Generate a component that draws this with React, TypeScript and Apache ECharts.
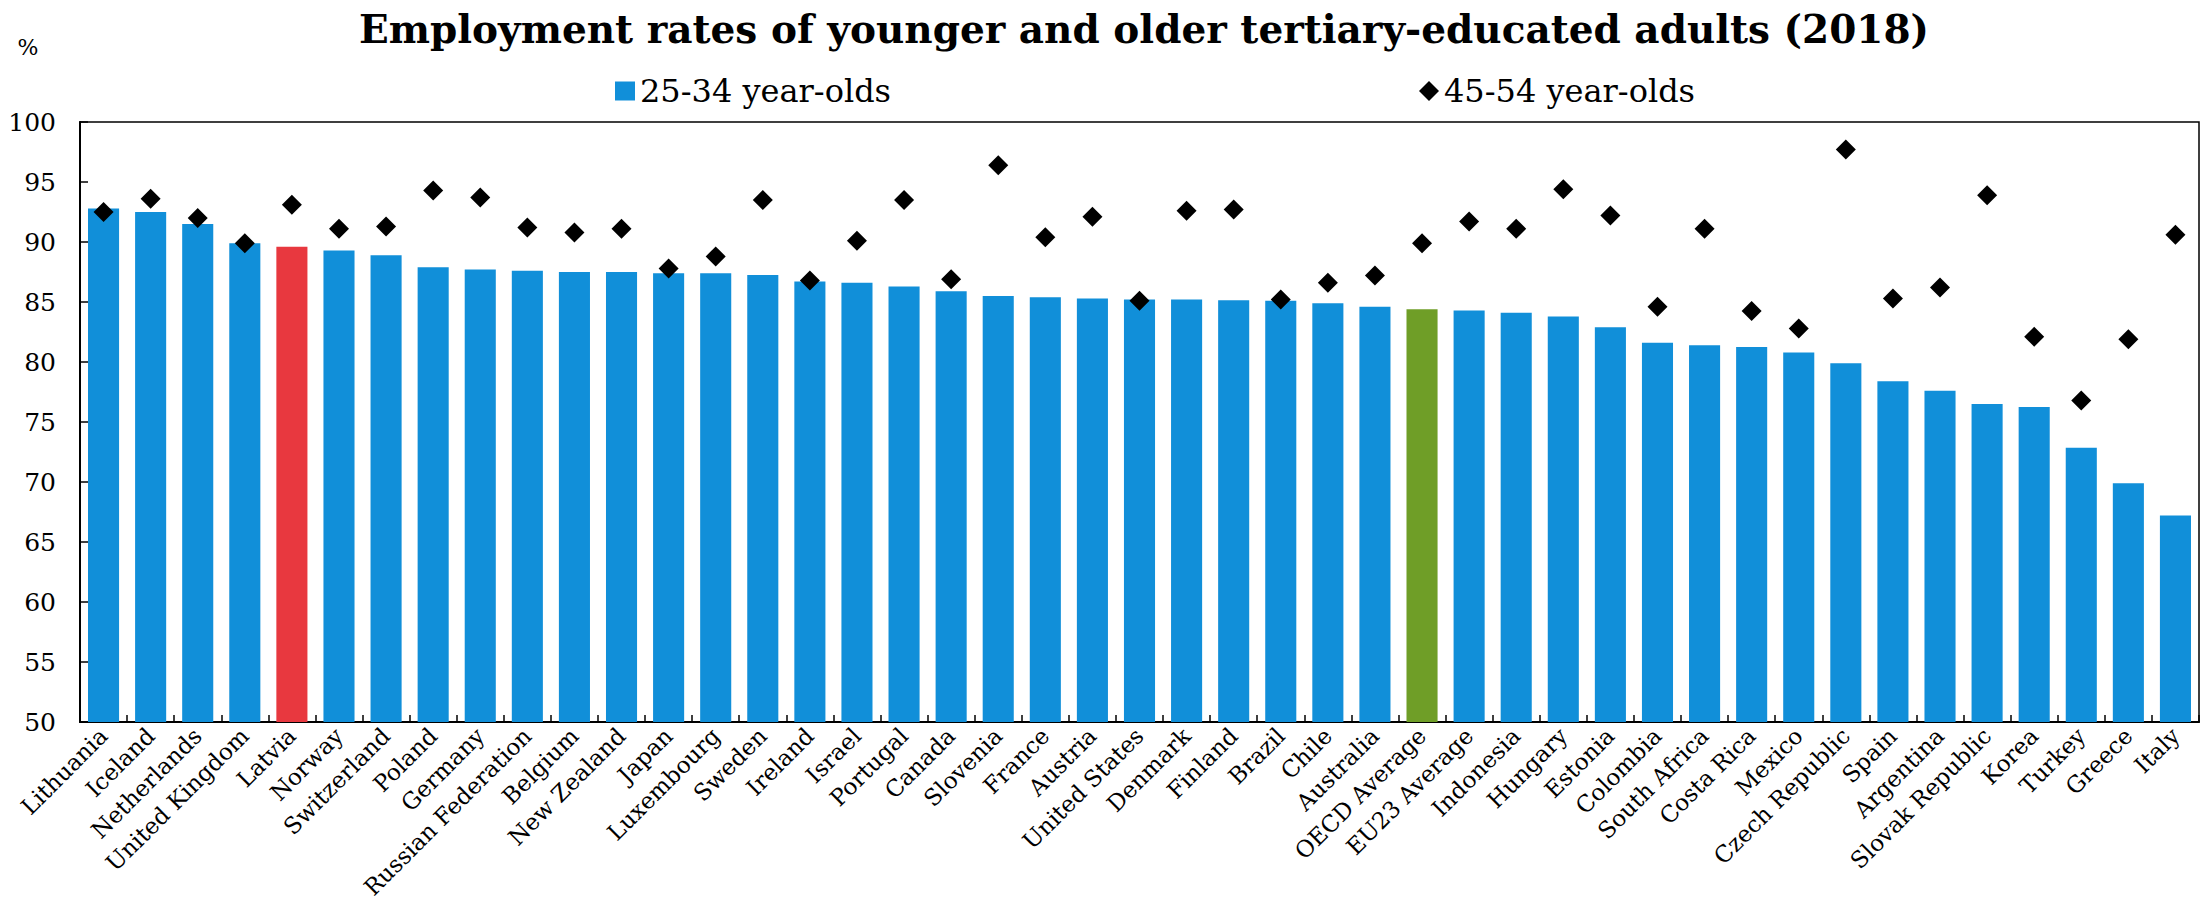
import React, { useEffect, useRef } from "react";
import * as echarts from "echarts";

// Countries and averages, ordered by the 25-34 rate
const categories: string[] = [
  "Lithuania", "Iceland", "Netherlands", "United Kingdom", "Latvia", "Norway",
  "Switzerland", "Poland", "Germany", "Russian Federation", "Belgium", "New Zealand",
  "Japan", "Luxembourg", "Sweden", "Ireland", "Israel", "Portugal", "Canada",
  "Slovenia", "France", "Austria", "United States", "Denmark", "Finland", "Brazil",
  "Chile", "Australia", "OECD Average", "EU23 Average", "Indonesia", "Hungary",
  "Estonia", "Colombia", "South Africa", "Costa Rica", "Mexico", "Czech Republic",
  "Spain", "Argentina", "Slovak Republic", "Korea", "Turkey", "Greece", "Italy",
];

// Employment rate (%), 25-34 year-olds
const younger: number[] = [
  92.8, 92.5, 91.5, 89.9, 89.6, 89.3, 88.9, 87.9, 87.7, 87.6, 87.5, 87.5,
  87.4, 87.4, 87.25, 86.7, 86.6, 86.3, 85.9, 85.5, 85.4, 85.3, 85.2, 85.2,
  85.15, 85.1, 84.9, 84.6, 84.4, 84.3, 84.1, 83.8, 82.9, 81.6, 81.4, 81.25,
  80.8, 79.9, 78.4, 77.6, 76.5, 76.25, 72.85, 69.9, 67.2,
];

// Employment rate (%), 45-54 year-olds
const older: number[] = [
  92.5, 93.6, 92.0, 89.9, 93.1, 91.1, 91.3, 94.3, 93.7, 91.2, 90.8, 91.1,
  87.8, 88.8, 93.5, 86.8, 90.1, 93.5, 86.9, 96.4, 90.4, 92.1, 85.1, 92.6,
  92.7, 85.2, 86.6, 87.2, 89.9, 91.7, 91.1, 94.4, 92.2, 84.6, 91.1, 84.25,
  82.8, 97.7, 85.3, 86.2, 93.9, 82.1, 76.8, 81.9, 90.6,
];

const seriesNames: string[] = ["25-34 year-olds", "45-54 year-olds"];
const yTicks = { min: 50, max: 100, step: 5 };

const BLUE = "#118fd9";
const accentColors: Record<string, string> = {
  Latvia: "#e8383f",
  "OECD Average": "#6f9e27",
};

const SERIF = "'DejaVu Serif', serif";

export default function App() {
  const ref = useRef<HTMLDivElement>(null);

  useEffect(() => {
    if (!ref.current) return;
    const chart = echarts.init(ref.current, undefined, { renderer: "svg" });

    const barData = younger.map((v, i) => {
      const c = accentColors[categories[i]];
      return c ? { value: v, itemStyle: { color: c } } : v;
    });

    chart.setOption({
      animation: false,
      backgroundColor: "#ffffff",
      title: {
        text: "Employment rates of younger and older tertiary-educated adults (2018)",
        left: 1139,
        top: 4,
        textAlign: "center",
        textStyle: {
          fontFamily: SERIF,
          fontWeight: "bold",
          fontSize: 39,
          color: "#000",
        },
      },
      graphic: [
        {
          type: "text",
          x: 28,
          y: 47,
          style: {
            text: "%",
            font: `22px ${SERIF}`,
            fill: "#000",
            align: "center",
            verticalAlign: "middle",
          },
        },
      ],
      legend: [
        {
          data: [seriesNames[0]],
          left: 610,
          top: 70,
          icon: "rect",
          itemWidth: 20,
          itemHeight: 19,
          textStyle: { fontFamily: SERIF, fontSize: 32, color: "#000" },
        },
        {
          data: [seriesNames[1]],
          left: 1414,
          top: 70,
          icon: "diamond",
          itemWidth: 20,
          itemHeight: 20,
          itemStyle: { opacity: 1 },
          textStyle: { fontFamily: SERIF, fontSize: 32, color: "#000" },
        },
      ],
      grid: {
        left: 80,
        right: 7,
        top: 122,
        bottom: 188,
        show: true,
        borderColor: "#000",
        borderWidth: 1.5,
        containLabel: false,
        outerBoundsMode: "none",
      },
      xAxis: {
        type: "category",
        data: categories,
        axisLine: { show: true, lineStyle: { color: "#000", width: 2 } },
        axisTick: { show: true, inside: true, length: 7, interval: 0, lineStyle: { color: "#000", width: 1.5 } },
        axisLabel: {
          interval: 0,
          rotate: 45,
          margin: 10,
          fontFamily: SERIF,
          fontSize: 23,
          color: "#000",
        },
      },
      yAxis: {
        type: "value",
        min: yTicks.min,
        max: yTicks.max,
        interval: yTicks.step,
        axisLine: { show: true, lineStyle: { color: "#000", width: 2 } },
        axisTick: { show: true, inside: true, length: 8, lineStyle: { color: "#000", width: 1.5 } },
        axisLabel: { margin: 24, fontFamily: SERIF, fontSize: 25, color: "#000" },
        splitLine: { show: false },
      },
      series: [
        {
          name: seriesNames[0],
          type: "bar",
          data: barData,
          barWidth: "66%",
          itemStyle: { color: BLUE },
        },
        {
          name: seriesNames[1],
          type: "scatter",
          data: older,
          symbol: "diamond",
          symbolSize: 20,
          itemStyle: { color: "#000", opacity: 1 },
          z: 3,
        },
      ],
    });

    return () => chart.dispose();
  }, []);

  return (
    <div
      ref={ref}
      style={{ position: "absolute", left: 0, top: 0, width: 2206, height: 910 }}
    />
  );
}
